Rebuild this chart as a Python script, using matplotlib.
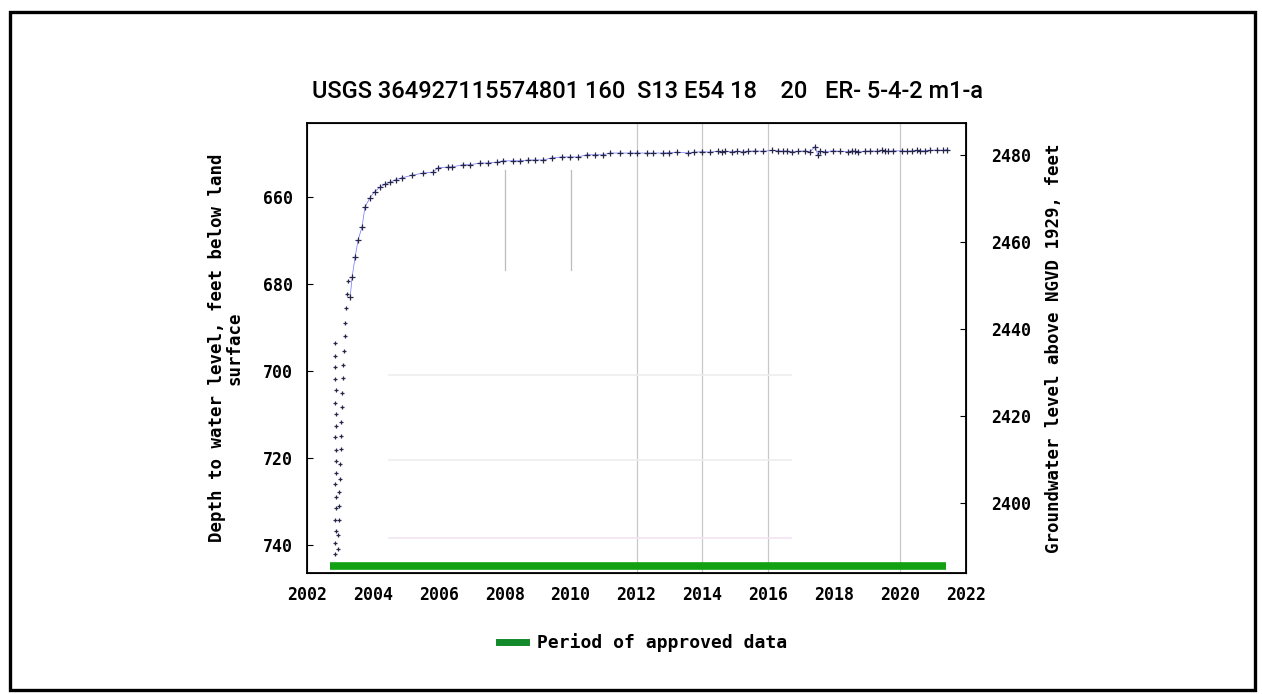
import numpy as np
import matplotlib
import matplotlib.pyplot as plt
from matplotlib.lines import Line2D
from matplotlib.patches import Rectangle
import matplotlib.transforms as mtransforms
matplotlib.use('Agg')

# data (decimal year, depth below land surface in feet)
# first recovery column right after the well was finished
col_a_year = [2002.86, 2002.86, 2002.87, 2002.86, 2002.87, 2002.87, 2002.86, 2002.87, 2002.87,
              2002.87, 2002.86, 2002.87, 2002.87, 2002.86, 2002.87, 2002.86, 2002.86, 2002.86,
              2002.85]
col_a_depth = [742.1, 739.6, 736.8, 734.3, 731.5, 728.9, 726.0, 723.4, 720.7,
               718.1, 715.2, 712.6, 709.8, 707.3, 704.4, 701.9, 699.0, 696.5,
               693.6]

# second steep column leading into the main curve
col_b_year = [2002.94, 2002.95, 2002.96, 2002.97, 2002.98, 2002.99, 2003.00, 2003.02, 2003.03,
              2003.04, 2003.06, 2003.07, 2003.08, 2003.10, 2003.12, 2003.14, 2003.16, 2003.18,
              2003.21, 2003.24]
col_b_depth = [741.0, 737.6, 734.3, 731.1, 727.8, 724.7, 721.4, 718.0, 714.9,
               711.6, 708.2, 705.0, 701.7, 698.5, 695.3, 692.0, 688.9, 685.6,
               682.3, 679.4]

# main record
main_year = [2003.31, 2003.37, 2003.46, 2003.55, 2003.67, 2003.76, 2003.91, 2004.05, 2004.22,
             2004.36, 2004.52, 2004.70, 2004.88, 2005.20, 2005.52, 2005.82, 2005.98, 2006.28,
             2006.40, 2006.73, 2006.95, 2007.25, 2007.49, 2007.77, 2007.95, 2008.25, 2008.46,
             2008.71, 2008.92, 2009.16, 2009.44, 2009.74, 2009.98, 2010.22, 2010.50, 2010.74,
             2010.98, 2011.20, 2011.50, 2011.80, 2012.02, 2012.32, 2012.50, 2012.80, 2013.00,
             2013.23, 2013.56, 2013.75, 2013.98, 2014.23, 2014.48, 2014.59, 2014.69, 2014.89,
             2015.04, 2015.24, 2015.39, 2015.60, 2015.85, 2016.10, 2016.30, 2016.46, 2016.56,
             2016.71, 2016.90, 2017.11, 2017.27, 2017.42, 2017.50, 2017.57, 2017.72, 2017.95,
             2018.18, 2018.43, 2018.53, 2018.63, 2018.73, 2018.92, 2019.09, 2019.30, 2019.44,
             2019.55, 2019.64, 2019.79, 2020.05, 2020.20, 2020.35, 2020.50, 2020.60, 2020.75,
             2020.91, 2021.11, 2021.31, 2021.42]
main_depth = [683.0, 678.4, 673.8, 669.9, 666.9, 662.3, 660.2, 658.8, 657.7,
              657.1, 656.6, 656.0, 655.6, 655.0, 654.5, 654.3, 653.3, 653.1,
              653.1, 652.6, 652.6, 652.2, 652.2, 652.0, 651.7, 651.7, 651.7,
              651.5, 651.5, 651.5, 651.0, 650.8, 650.8, 650.8, 650.3, 650.3,
              650.3, 649.9, 649.9, 649.9, 649.9, 649.9, 649.9, 649.9, 649.8,
              649.7, 649.9, 649.7, 649.6, 649.7, 649.5, 649.6, 649.5, 649.6,
              649.5, 649.6, 649.5, 649.4, 649.5, 649.3, 649.4, 649.5, 649.4,
              649.6, 649.5, 649.4, 649.6, 648.4, 650.3, 649.5, 649.6, 649.4,
              649.5, 649.6, 649.4, 649.5, 649.6, 649.5, 649.4, 649.5, 649.3,
              649.4, 649.5, 649.4, 649.4, 649.5, 649.4, 649.3, 649.4, 649.4,
              649.3, 649.2, 649.3, 649.1]

land_surface = 3130.3          # depth + elevation
approved_start, approved_end = 2002.70, 2021.40

depth_ticks = [660, 680, 700, 720, 740]
elev_ticks = [2400, 2420, 2440, 2460, 2480]
year_ticks = [2002, 2004, 2006, 2008, 2010, 2012, 2014, 2016, 2018, 2020, 2022]

title = 'USGS 364927115574801 160  S13 E54 18    20   ER- 5-4-2 m1-a'
mono = {'family': 'DejaVu Sans Mono', 'weight': 'bold'}

fig = plt.figure(figsize=(12.62, 6.94), dpi=100)
fig.patch.set_facecolor('white')
ax = fig.add_axes([307 / 1262, 1 - 573 / 694, 659 / 1262, 450 / 694])

ax.set_xlim(2002, 2022)
ax.set_ylim(746.4, 643.0)

# faint grid remnants
for yr in [2012, 2014, 2016, 2020]:
    ax.axvline(yr, color='#c8c8c8', lw=0.9, zorder=1)
for yr in [2008, 2010]:
    ax.plot([yr, yr], [653.8, 676.8], color='#bcbcbc', lw=0.9, zorder=1)
for d, c in [(700.9, '#eeeeee'), (720.5, '#eeeeee'), (738.4, '#f1e4f1')]:
    ax.plot([2004.5, 2016.7], [d, d], color=c, lw=1.2, zorder=1)

# approved period bar
trans = mtransforms.blended_transform_factory(ax.transData, ax.transAxes)
ax.plot([approved_start, approved_end], [0.016, 0.016], color='#13a013', lw=5.5,
        solid_capstyle='butt', transform=trans, zorder=2)

mk = dict(linestyle='none', marker='+', markersize=4, mew=0.9, color='#26264a', zorder=3)
ax.plot(col_a_year, col_a_depth, **dict(mk, markersize=3))
ax.plot(col_b_year, col_b_depth, **dict(mk, markersize=3))
ax.plot(main_year, main_depth, color='#7070ff', lw=0.5, zorder=2)
ax.plot(main_year, main_depth, **mk)

ax.set_yticks(depth_ticks)
ax.set_xticks(year_ticks)
ax.tick_params(axis='y', direction='in', length=4, pad=10, labelsize=12)
ax.tick_params(axis='x', length=0, pad=9, labelsize=12)
for lab in ax.get_xticklabels() + ax.get_yticklabels():
    lab.set_fontfamily('DejaVu Sans Mono')
    lab.set_fontweight('bold')
ax.set_ylabel('Depth to water level, feet below land\nsurface', fontsize=12.5,
              labelpad=14, linespacing=1.0, **mono)
for s in ax.spines.values():
    s.set_linewidth(1.3)

ax2 = ax.twinx()
ax2.set_ylim(land_surface - 746.4, land_surface - 643.0)
ax2.set_yticks(elev_ticks)
ax2.tick_params(axis='y', direction='in', length=4, pad=18, labelsize=12)
for lab in ax2.get_yticklabels():
    lab.set_fontfamily('DejaVu Sans Mono')
    lab.set_fontweight('bold')
ax2.set_ylabel('Groundwater level above NGVD 1929, feet', fontsize=12.5, labelpad=10, **mono)

fig.text(648 / 1262, 1 - 92 / 694, title, ha='center', va='center', fontsize=17,
         fontweight='medium', family=['Roboto', 'Liberation Sans', 'DejaVu Sans'])

handle = Line2D([], [], color='#128a2a', lw=5)
fig.legend([handle], ['Period of approved data'], loc='center',
           bbox_to_anchor=(643 / 1262, 1 - 643 / 694), frameon=False,
           handlelength=1.5, handletextpad=0.6,
           prop={'family': 'DejaVu Sans Mono', 'weight': 'bold', 'size': 13})

fig.patches.append(Rectangle((10 / 1262, 4 / 694), 1245 / 1262, 678 / 694,
                             transform=fig.transFigure, fill=False, ec='black', lw=2.4))

fig.savefig('out.png', dpi=100)
